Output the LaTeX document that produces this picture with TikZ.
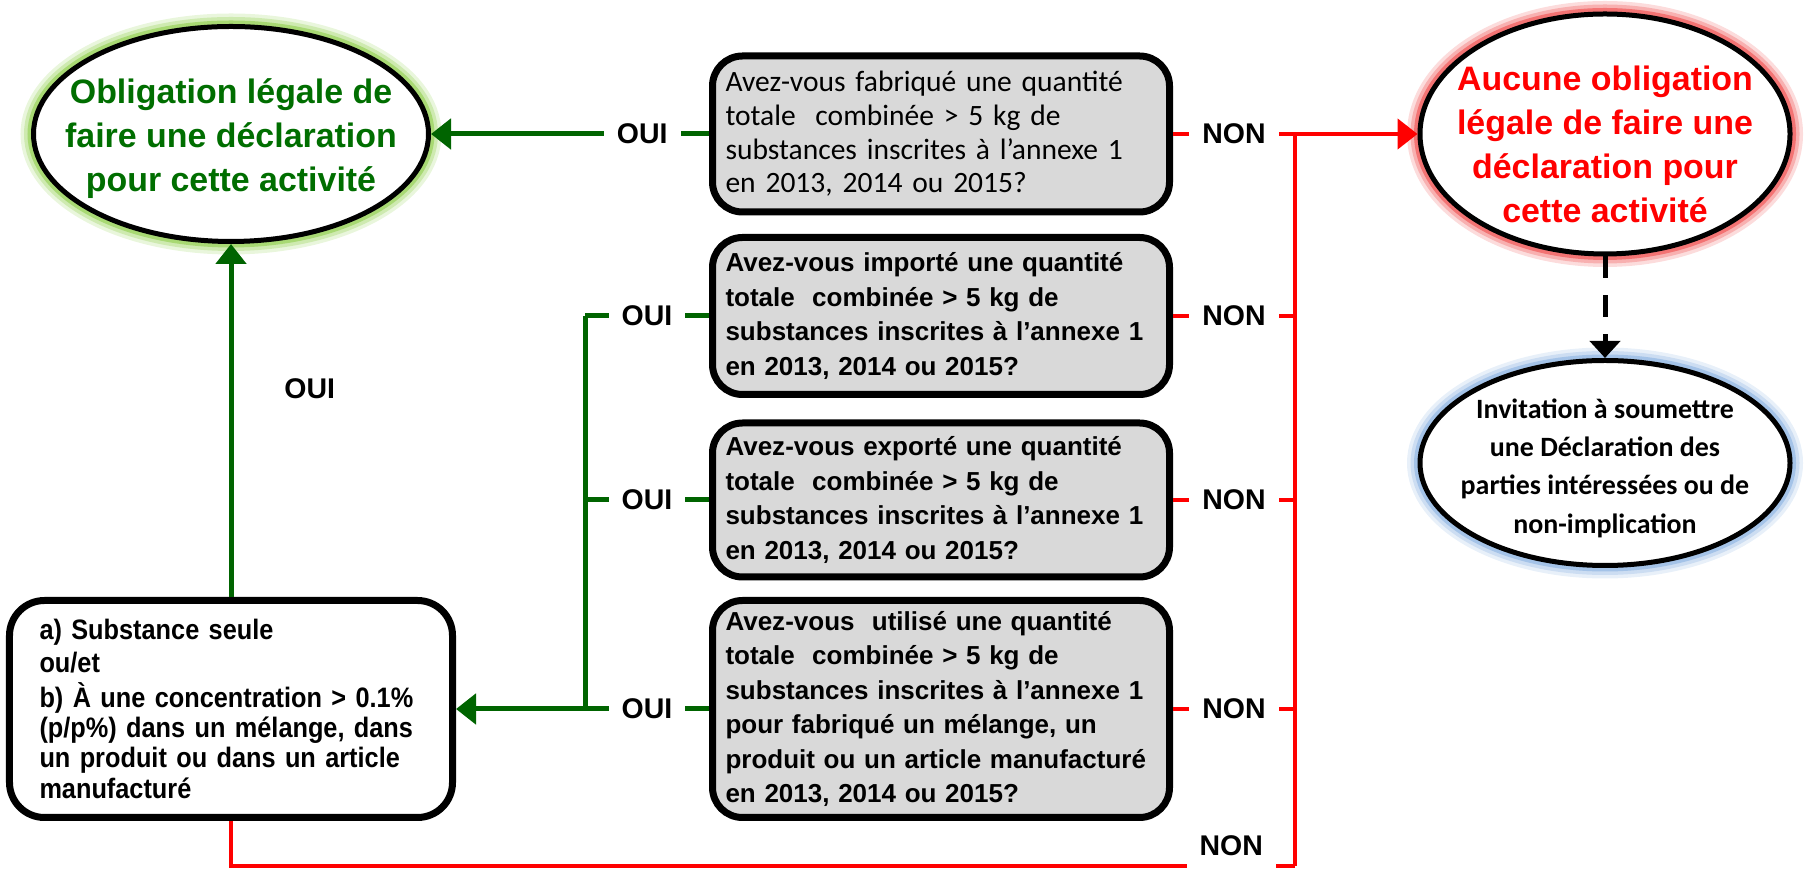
\documentclass[tikz,border=0pt]{standalone}
\usepackage{fontspec}
\setmainfont{Liberation Sans}
\newfontfamily\calfont{Carlito}
\newfontfamily\narrowfont[FakeStretch=0.9]{Liberation Sans}
\usetikzlibrary{shapes.geometric,arrows.meta}
\definecolor{ouigreen}{RGB}{0,100,0}
\definecolor{titlegreen}{RGB}{0,110,0}
\definecolor{glowgreen}{RGB}{146,208,80}
\definecolor{glowred}{RGB}{240,80,80}
\definecolor{glowblue}{RGB}{141,180,226}
\definecolor{boxgray}{RGB}{217,217,217}
\begin{document}
\begin{tikzpicture}[x=2cm,y=2cm,
	bubble/.style={ellipse,draw=black,line width=1mm,fill=white,inner sep=0pt},
	glow/.style={preaction={draw=#1!20,line width=5.2mm},preaction={draw=#1!45,line width=3.8mm},preaction={draw=#1!80,line width=2.4mm}},
	question/.style={rectangle,rounded corners=6mm,draw=black,line width=1.4mm,fill=boxgray,minimum width=91.4mm,inner xsep=2.6mm,text width=86.2mm,align=left,font=\fontsize{14.8}{19.6}\selectfont\bfseries},
	title/.style={align=center,font=\fontsize{19.3}{25}\selectfont\bfseries},
	lbltxt/.style={font=\fontsize{16.2}{18}\selectfont\bfseries},
	lbl/.style={lbltxt,fill=white,inner xsep=2.6mm},
	oui/.style={draw=ouigreen,line width=1mm},
	non/.style={draw=red,line width=0.9mm},
	tip/.style={-{Triangle[length=4mm,width=6mm]}}]
	\useasboundingbox (0,0) rectangle (18.16,8.72);

	\node[bubble,glow=glowgreen,minimum width=79mm,minimum height=43mm] (oblig) at (2.31,7.38) {};
	\node[title,text=titlegreen] (oblig-txt) at ([yshift=-1mm]oblig.center) {Obligation légale de\\faire une déclaration\\pour cette activité};
	\node[bubble,glow=glowred,minimum width=74mm,minimum height=48mm] (aucune) at (16.05,7.38) {};
	\node[title,text=red] (aucune-txt) at ([yshift=-2mm]aucune.center) {Aucune obligation\\légale de faire une\\déclaration pour\\cette activité};
	\node[bubble,glow=glowblue,minimum width=74mm,minimum height=41mm] (invit) at (16.05,4.09) {};
	\node[align=center,font=\calfont\bfseries\fontsize{15.9}{21.8}\selectfont] (invit-txt) at ([yshift=-1mm]invit.center) {Invitation à soumettre\\une Déclaration des\\parties intéressées ou de\\non-implication};

	\node[question,font=\calfont\fontsize{16.8}{19.2}\selectfont,minimum height=31.2mm] (q1) at (9.41,7.38) {Avez-vous fabriqué une quantité\\totale \ combinée > 5 kg de\\substances inscrites à l’annexe 1\\en 2013, 2014 ou 2015?\\[1mm]};
	\node[question,minimum height=31.4mm] (q2) at (9.41,5.56) {Avez-vous importé une quantité\\totale \ combinée > 5 kg de\\substances inscrites à l’annexe 1\\en 2013, 2014 ou 2015?};
	\node[question,minimum height=30.8mm] (q3) at (9.41,3.72) {Avez-vous exporté une quantité\\totale \ combinée > 5 kg de\\substances inscrites à l’annexe 1\\en 2013, 2014 ou 2015?};
	\node[question,minimum height=43.4mm] (q4) at (9.41,1.63) {Avez-vous \ utilisé une quantité\\totale \ combinée > 5 kg de\\substances inscrites à l’annexe 1\\pour fabriqué un mélange, un\\produit ou un article manufacturé\\en 2013, 2014 ou 2015?};
	\node[question,fill=white,rounded corners=7mm,minimum width=88.6mm,minimum height=43.4mm,inner xsep=6mm,text width=76.6mm,font=\narrowfont\bfseries\fontsize{16}{17.2}\selectfont] (sub) at (2.31,1.63) {a) Substance seule\\[0.4mm]ou/et\\[1mm]b) À une concentration > 0.1\%\\(p/p\%) dans un mélange, dans\\un produit ou dans un article\\manufacturé};

	\coordinate (gbar) at (5.85,0);
	\coordinate (rbar) at (12.95,0.06);

	\draw[oui,tip] (q1.west) -- node[lbl,pos=0.24] (oui1) {OUI} (oblig.east);
	\draw[oui] (q2.west) -- node[lbl] (oui2) {OUI} (q2.west -| gbar);
	\draw[oui] (q3.west) -- node[lbl] (oui3) {OUI} (q3.west -| gbar);
	\draw[oui,tip] (q4.west) -- node[lbl] (oui4) {OUI} (q4.west -| gbar) -- (sub.east);
	\draw[oui] (q2.west -| gbar) -- (q4.west -| gbar);
	\draw[oui,tip] (sub.north) -- node[lbltxt,pos=0.59,right=9mm] (oui5) {OUI} (oblig.south);

	\draw[non,tip] (q1.east) -- node[lbl] (non1) {NON} (q1.east -| rbar) -- (aucune.west);
	\draw[non] (q2.east) -- node[lbl] (non2) {NON} (q2.east -| rbar);
	\draw[non] (q3.east) -- node[lbl] (non3) {NON} (q3.east -| rbar);
	\draw[non] (q4.east) -- node[lbl] (non4) {NON} (q4.east -| rbar);
	\draw[non] (rbar) -- (q1.east -| rbar);
	\draw[non] (sub.south) |- node[lbl,pos=0.97,yshift=4mm,inner ysep=3.6mm] (non5) {NON} (rbar);

	\draw[line width=1mm,dash pattern=on 4.4mm off 3.4mm,-{Triangle[length=3.4mm,width=6mm]}] (aucune.south) -- (invit.north);
\end{tikzpicture}
\end{document}
